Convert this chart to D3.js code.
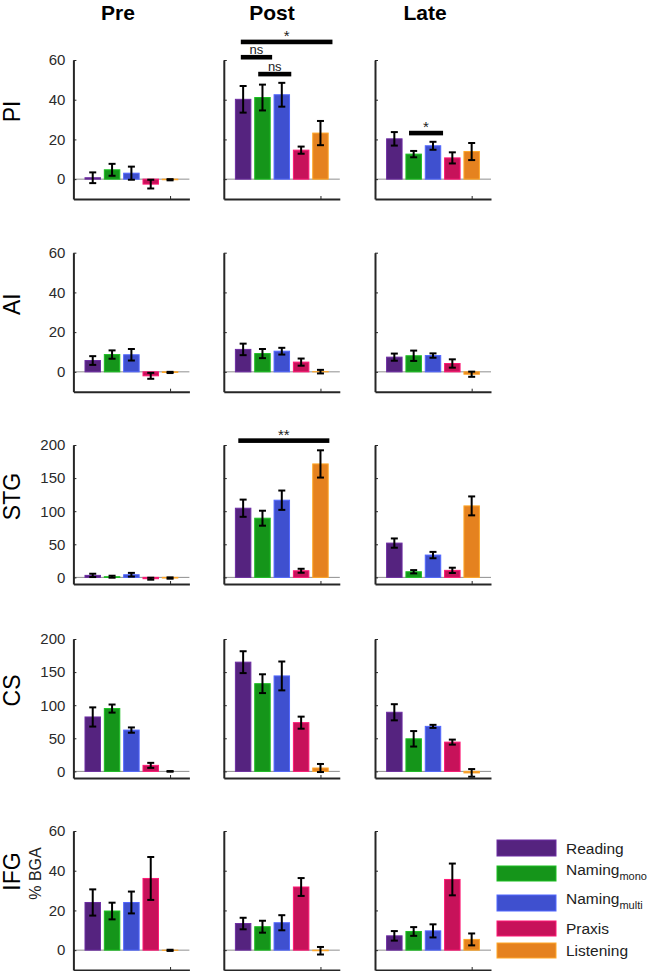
<!DOCTYPE html>
<html>
<head>
<meta charset="utf-8">
<script src="https://cdn.jsdelivr.net/npm/d3@7"></script>
<style>
  body { margin: 0; background: #fff; }
  svg { display: block; font-family: "Liberation Sans", Arial, Helvetica, sans-serif; }
</style>
</head>
<body>
<svg id="chart" width="658" height="971"></svg>
<script>
const phases = ["Pre", "Post", "Late"];
const regions = ["PI", "AI", "STG", "CS", "IFG"];
const conditions = ["Reading", "Naming", "Naming", "Praxis", "Listening"];
const conditionSubs = ["", "mono", "multi", "", ""];
const colors = ["#55237f", "#15951a", "#3f50cf", "#c7125a", "#e5821f"];
const yMax = [60, 60, 200, 200, 60];
const yTicks = [
    [0, 20, 40, 60],
    [0, 20, 40, 60],
    [0, 50, 100, 150, 200],
    [0, 50, 100, 150, 200],
    [0, 20, 40, 60],
];

// mean % BGA, [phase][condition]
const piMean = [[0.7, 4.7, 3.0, -2.5, -0.3], [40.2, 41.1, 42.5, 14.6, 23.2], [20.3, 12.6, 16.8, 10.7, 13.9]];
const piErr = [[2.7, 3.0, 3.3, 2.2, 0.3], [6.7, 6.5, 6.0, 1.8, 6.1], [3.4, 1.6, 2.0, 2.8, 4.3]];
const aiMean = [[5.7, 8.7, 8.6, -2.0, -0.3], [11.3, 9.2, 10.4, 4.9, 0.1], [7.4, 8.1, 8.2, 4.2, -1.2]];
const aiErr = [[2.2, 2.1, 2.9, 1.5, 0.3], [2.9, 2.3, 1.7, 1.8, 0.9], [1.8, 2.6, 1.1, 2.1, 1.3]];
const stgMean = [[3.0, 1.0, 4.0, -2.0, -1.0], [104.5, 89.4, 116.6, 10.0, 171.4], [51.8, 8.5, 33.7, 10.6, 108.0]];
const stgErr = [[2.5, 1.5, 2.8, 1.5, 1.0], [13.0, 11.3, 14.6, 3.0, 20.6], [7.0, 2.5, 4.8, 4.0, 14.3]];
const csMean = [[82.2, 94.9, 62.4, 9.1, 0.0], [165.0, 132.5, 144.2, 73.6, 5.1], [89.3, 49.2, 68.0, 44.2, -2.3]];
const csErr = [[14.5, 6.1, 4.0, 3.8, 0.5], [16.5, 14.2, 21.8, 9.1, 6.1], [12.2, 11.7, 2.3, 3.8, 5.8]];
const ifgMean = [[24.0, 19.7, 24.0, 36.1, -0.1], [13.4, 11.8, 13.8, 31.8, -0.3], [7.2, 9.4, 9.7, 35.6, 5.4]];
const ifgErr = [[6.6, 4.2, 5.5, 10.8, 0.3], [2.9, 3.0, 3.8, 4.5, 1.9], [2.4, 2.2, 3.3, 8.0, 3.0]];

const means = [piMean, aiMean, stgMean, csMean, ifgMean];
const errs = [piErr, aiErr, stgErr, csErr, ifgErr];

// significance brackets (x in bar positions, y in data units)
const sigRegion = ["PI", "PI", "PI", "PI", "STG"];
const sigPhase = ["Post", "Post", "Post", "Late", "Post"];
const sigFrom = [0.88, 0.88, 1.78, 1.76, 0.75];
const sigTo = [5.62, 2.5, 3.49, 3.52, 5.46];
const sigLevel = [69.1, 61.4, 52.9, 23.2, 206.6];
const sigLabel = ["*", "ns", "ns", "*", "**"];

const svg = d3.select("#chart");

const colLeft = [73.4, 223.8, 375];
const panelW = 116;
const rowTop = [60, 252.7, 445, 639, 831];
const panelH = 139;
const axisColor = "#262626";

const xScales = colLeft.map((x0) =>
    d3.scaleLinear().domain([0, 6]).range([x0, x0 + panelW])
);
const yScales = rowTop.map((t, r) =>
    d3.scaleLinear().domain([-10, yMax[r]]).range([t + panelH, t])
);

// column titles
const titleX = [118, 272, 425];
svg.selectAll(".title")
    .data(phases)
    .enter()
    .append("text")
    .attr("class", "title")
    .attr("x", (d, i) => titleX[i])
    .attr("y", 20)
    .attr("text-anchor", "middle")
    .attr("font-weight", "bold")
    .attr("font-size", 21)
    .attr("fill", "#000")
    .text((d) => d);

regions.forEach((reg, r) => {
    const y = yScales[r];
    const cy = rowTop[r] + panelH / 2 - 18;

    // row label
    if (reg === "IFG") {
        svg.append("text")
            .attr("transform", `translate(20,${rowTop[r] + panelH / 2 - 29}) rotate(-90)`)
            .attr("text-anchor", "middle")
            .attr("font-size", 23)
            .text(reg);
        svg.append("text")
            .attr("transform", `translate(41,${rowTop[r] + panelH / 2 - 27}) rotate(-90)`)
            .attr("text-anchor", "middle")
            .attr("font-size", 16)
            .attr("fill", "#222")
            .text("% BGA");
    } else {
        svg.append("text")
            .attr("transform", `translate(20,${cy}) rotate(-90)`)
            .attr("text-anchor", "middle")
            .attr("font-size", 23)
            .text(reg);
    }

    phases.forEach((ph, c) => {
        const x = xScales[c];
        const g = svg.append("g");

        // zero line
        g.append("line")
            .attr("x1", x(0))
            .attr("x2", x(6))
            .attr("y1", y(0))
            .attr("y2", y(0))
            .attr("stroke", "#8f8f8f")
            .attr("stroke-width", 1);

        const vals = means[r][c].map((m, i) => ({ m: m, e: errs[r][c][i], i: i }));

        g.selectAll("rect.bar")
            .data(vals)
            .enter()
            .append("rect")
            .attr("class", "bar")
            .attr("x", (d) => x(d.i + 1 - 0.4))
            .attr("width", x(0.8) - x(0))
            .attr("y", (d) => Math.min(y(d.m), y(0)))
            .attr("height", (d) => Math.abs(y(d.m) - y(0)))
            .attr("fill", (d) => colors[d.i])
            .attr("stroke", (d) => d3.color(colors[d.i]).brighter(0.7))
            .attr("stroke-width", 1);

        const eb = g.selectAll("g.err").data(vals).enter().append("g").attr("class", "err")
            .attr("stroke", "#000").attr("stroke-width", 2);
        eb.append("line")
            .attr("x1", (d) => x(d.i + 1))
            .attr("x2", (d) => x(d.i + 1))
            .attr("y1", (d) => y(d.m + d.e))
            .attr("y2", (d) => y(d.m - d.e));
        eb.append("line")
            .attr("x1", (d) => x(d.i + 1) - 3.5)
            .attr("x2", (d) => x(d.i + 1) + 3.5)
            .attr("y1", (d) => y(d.m + d.e))
            .attr("y2", (d) => y(d.m + d.e));
        eb.append("line")
            .attr("x1", (d) => x(d.i + 1) - 3.5)
            .attr("x2", (d) => x(d.i + 1) + 3.5)
            .attr("y1", (d) => y(d.m - d.e))
            .attr("y2", (d) => y(d.m - d.e));

        // y axis
        const yAxis = d3.axisLeft(y).tickValues(yTicks[r]).tickSizeInner(-3).tickSizeOuter(0).tickPadding(8);
        if (c > 0) yAxis.tickFormat("");
        const ya = g.append("g").attr("transform", `translate(${x(0)},0)`).call(yAxis);
        ya.select(".domain").attr("stroke", axisColor).attr("stroke-width", 2);
        ya.selectAll(".tick line").attr("stroke", axisColor).attr("stroke-width", 1);
        ya.selectAll(".tick text")
            .attr("font-size", 15)
            .attr("fill", "#2a2a2a")
            .attr("font-family", '"Liberation Sans", Arial, sans-serif');

        // x axis
        const xAxis = d3.axisBottom(x).tickValues([5]).tickSizeInner(-3).tickSizeOuter(0).tickFormat("");
        const xa = g.append("g").attr("transform", `translate(0,${y(-10)})`).call(xAxis);
        xa.select(".domain").attr("stroke", axisColor).attr("stroke-width", 2);
        xa.selectAll(".tick line").attr("stroke", axisColor).attr("stroke-width", 1);
    });
});

// significance brackets
sigLabel.forEach((lab, k) => {
    const r = regions.indexOf(sigRegion[k]);
    const c = phases.indexOf(sigPhase[k]);
    const x = xScales[c];
    const y = yScales[r];
    const by = y(sigLevel[k]);
    svg.append("rect")
        .attr("x", x(sigFrom[k]))
        .attr("width", x(sigTo[k]) - x(sigFrom[k]))
        .attr("y", by - 2.3)
        .attr("height", 4.6)
        .attr("fill", "#000");
    svg.append("text")
        .attr("x", x((sigFrom[k] + sigTo[k]) / 2))
        .attr("y", lab === "ns" ? by - 3.5 : by - 1)
        .attr("text-anchor", "middle")
        .attr("font-size", lab === "ns" ? 13 : 15)
        .attr("fill", "#222")
        .text(lab);
});

// legend
const legendTop = [840, 866, 895, 921, 943];
const legendH = [16, 15, 16, 15, 15];
const legend = svg.append("g");
conditions.forEach((name, i) => {
    legend.append("rect")
        .attr("x", 497)
        .attr("y", legendTop[i])
        .attr("width", 59)
        .attr("height", legendH[i])
        .attr("fill", colors[i])
        .attr("stroke", d3.color(colors[i]).brighter(0.7))
        .attr("stroke-width", 1);
    const t = legend.append("text")
        .attr("x", 566)
        .attr("y", legendTop[i] + legendH[i] / 2 + (conditionSubs[i] ? 1 : 5.5))
        .attr("font-size", 15.5)
        .attr("fill", "#222")
        .text(name);
    if (conditionSubs[i]) {
        t.append("tspan")
            .attr("font-size", 11)
            .attr("dy", 5)
            .text(conditionSubs[i]);
    }
});
</script>
</body>
</html>
